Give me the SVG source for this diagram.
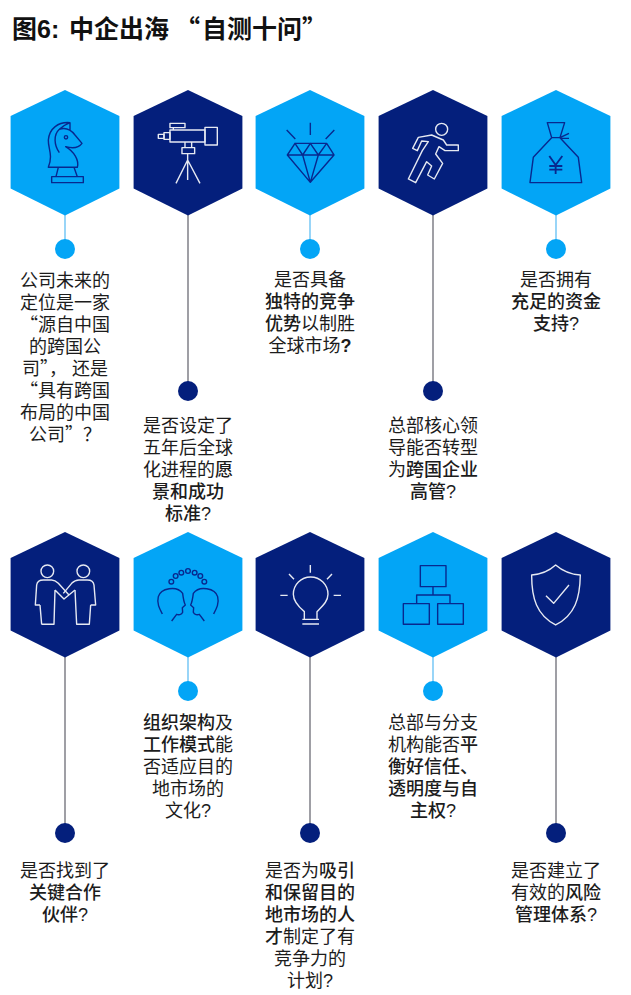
<svg xmlns="http://www.w3.org/2000/svg" width="631" height="995" viewBox="0 0 631 995">
<style>
.lt{fill:#03a5f6}
.dk{fill:#041f7c}
.cl{stroke:#7fcbf6;stroke-width:1.6;fill:none}
.cd{stroke:#87878f;stroke-width:1.6;fill:none}
.id{fill:none;stroke:#08288e;stroke-width:4.2;stroke-linejoin:round}
.iw{fill:none;stroke:#e6e9f2;stroke-width:4.2;stroke-linejoin:round}
text{font-family:"Liberation Sans","Noto Sans CJK SC",sans-serif;font-size:18px;fill:#1c1c1c;text-anchor:middle}
.cjk{font-family:"Noto Sans CJK SC",sans-serif}
.b{font-weight:500}
.q{font-weight:700}
.title{font-size:25px;font-weight:700;fill:#111;text-anchor:start}
</style>
<defs>
<polygon id="hex" points="0,0 54.4,26 54.4,98.6 0,125.4 -54.4,98.6 -54.4,26"/>
</defs>
<rect width="631" height="995" fill="#fff"/>
<text class="title" y="38"><tspan x="12">图6:</tspan><tspan x="69">中企出海</tspan><tspan class="cjk" x="175">“</tspan><tspan x="202">自测十问</tspan><tspan class="cjk" x="302">”</tspan></text>
<g id="connectors">
<path class="cl" d="M65 215V240"/><path class="cd" d="M188 215V382"/><path class="cl" d="M310 215V240"/><path class="cd" d="M433 215V382"/><path class="cl" d="M556 215V240"/>
<path class="cd" d="M65 657V824"/><path class="cl" d="M188 657V682"/><path class="cd" d="M310 657V824"/><path class="cl" d="M433 657V682"/><path class="cd" d="M556 657V824"/>
</g>
<g id="n1">
<use href="#hex" x="65" y="90" class="lt"/>
<g class="id" transform="translate(0 80) scale(.3333)">
<rect x="155" y="290" width="95" height="18"/>
<path d="M175 262L168 290M222 262L232 290"/>
<path d="M210 128C175 125 148 145 145 180C144 205 160 225 145 262H232C238 240 222 215 197 200C215 205 235 205 246 190L225 165C212 148 195 142 178 148C160 165 162 195 178 218M178 148C190 135 200 132 210 128V150"/>
<circle cx="198" cy="172" r="5"/>
</g>
<circle cx="65" cy="249" r="10" class="lt"/>
<text><tspan x="65" y="287">公司未来的</tspan><tspan x="65" y="309">定位是一家</tspan><tspan x="65" y="331"><tspan class="cjk">“</tspan>源自中国</tspan><tspan x="65" y="353">的跨国公</tspan><tspan x="65" y="375">司<tspan class="cjk">”，</tspan> 还是</tspan><tspan x="65" y="397"><tspan class="cjk">“</tspan>具有跨国</tspan><tspan x="65" y="419">布局的中国</tspan><tspan x="65" y="441">公司<tspan class="cjk">”？</tspan></tspan></text>
</g>
<g id="n2">
<use href="#hex" x="188" y="90" class="dk"/>
<g class="iw" transform="translate(0 80) scale(.3333)">
<rect x="510" y="150" width="105" height="36"/>
<rect x="615" y="142" width="37" height="53"/>
<rect x="510" y="130" width="45" height="13"/>
<path d="M520 143V150"/>
<rect x="492" y="158" width="18" height="20"/>
<rect x="475" y="163" width="17" height="12"/>
<path d="M555 186V203M575 186V203"/>
<rect x="546" y="203" width="38" height="18"/>
<path d="M563 221V300M563 240L528 310M563 240L600 310"/>
</g>
<circle cx="188" cy="391" r="10" class="dk"/>
<text><tspan x="188" y="432">是否设定了</tspan><tspan x="188" y="454">五年后全球</tspan><tspan x="188" y="476">化进程的<tspan class="b">愿</tspan></tspan><tspan x="188" y="498" class="b">景和成功</tspan><tspan x="188" y="520"><tspan class="b">标准</tspan>?</tspan></text>
</g>
<g id="n3">
<use href="#hex" x="310" y="90" class="lt"/>
<g class="id" transform="translate(270 110) scale(.3333)">
<path d="M121 38V75M50 60L76 87M193 60L167 87M75 100H170L192 135L121 217L52 135ZM52 135H192M52 135L75 100L98 135L121 100L145 135L170 100M98 135L121 217L145 135"/>
</g>
<circle cx="310" cy="249" r="10" class="lt"/>
<text><tspan x="310" y="286">是否具备</tspan><tspan x="310" y="308" class="b">独特的竞争</tspan><tspan x="310" y="330"><tspan class="b">优势</tspan>以制胜</tspan><tspan x="310" y="352">全球市场<tspan class="q">?</tspan></tspan></text>
</g>
<g id="n4">
<use href="#hex" x="433" y="90" class="dk"/>
<g class="iw" transform="translate(315 80) scale(.3333)">
<circle cx="380" cy="148" r="18"/>
<path d="M293 205L310 172L350 165L385 180L395 195H430V212H390L372 200L362 222L383 250L358 297L338 285L350 258L335 245L302 308L280 297L322 212L340 185L320 183L307 212Z"/>
</g>
<circle cx="433" cy="391" r="10" class="dk"/>
<text><tspan x="433" y="432">总部核心领</tspan><tspan x="433" y="454">导能否转型</tspan><tspan x="433" y="476">为<tspan class="b">跨国企业</tspan></tspan><tspan x="433" y="498"><tspan class="b">高管</tspan>?</tspan></text>
</g>
<g id="n5">
<use href="#hex" x="556" y="90" class="lt"/>
<g class="id" transform="translate(315 80) scale(.3333)">
<path d="M697 128H749L735 173H710ZM710 173L655 232L645 308H800L790 232L735 173M735 173L762 160M738 175H762"/>
<path style="stroke-width:5.5" d="M703 228L722 255L742 228M722 255V282M703 258H742M703 269H742"/>
</g>
<circle cx="556" cy="249" r="10" class="lt"/>
<text><tspan x="556" y="286">是否拥有</tspan><tspan x="556" y="308" class="b">充足的资金</tspan><tspan x="556" y="330"><tspan class="b">支持</tspan>?</tspan></text>
</g>
<g id="n6">
<use href="#hex" x="65" y="532" class="dk"/>
<g class="iw" transform="translate(0 525) scale(.3333)">
<circle cx="142" cy="139" r="19"/><circle cx="250" cy="139" r="19"/>
<path d="M120 240H106L110 180Q112 165 130 165H155Q165 165 175 175L207 210M165 195L192 222L225 195M125 298L120 240M125 298H162L165 195"/>
<path d="M272 240H287L282 180Q280 165 262 165H237Q225 165 215 175L190 205M225 195L230 298H268L272 240"/>
</g>
<circle cx="65" cy="833" r="10" class="dk"/>
<text><tspan x="65" y="877">是否找到了</tspan><tspan x="65" y="899" class="b">关键合作</tspan><tspan x="65" y="921"><tspan class="b">伙伴</tspan>?</tspan></text>
</g>
<g id="n7">
<use href="#hex" x="188" y="532" class="lt"/>
<g class="id" transform="translate(0 525) scale(.3333)">
<circle cx="514" cy="170" r="7"/><circle cx="527" cy="153" r="7"/><circle cx="544" cy="143" r="7"/><circle cx="564" cy="138" r="7"/><circle cx="584" cy="143" r="7"/><circle cx="601" cy="153" r="7"/><circle cx="613" cy="170" r="7"/>
<path d="M487 267C478 250 470 235 475 215C482 190 530 180 548 205C550 222 552 232 556 240L547 248L548 262C545 270 535 270 530 268L515 288"/>
<path transform="translate(1128 0) scale(-1 1)" d="M487 267C478 250 470 235 475 215C482 190 530 180 548 205C550 222 552 232 556 240L547 248L548 262C545 270 535 270 530 268L515 288"/>
</g>
<circle cx="188" cy="691" r="10" class="lt"/>
<text><tspan x="188" y="729"><tspan class="b">组织架构</tspan>及</tspan><tspan x="188" y="751"><tspan class="b">工作模式</tspan>能</tspan><tspan x="188" y="773">否适应目的</tspan><tspan x="188" y="795">地市场的</tspan><tspan x="188" y="817">文化?</tspan></text>
</g>
<g id="n8">
<use href="#hex" x="310" y="532" class="dk"/>
<g class="iw" transform="translate(270 560) scale(.3333)">
<path d="M121 15V38M57 42L72 58M186 42L171 58M31 106H53M191 106H213"/>
<path d="M103 178V155C85 140 70 125 70 103A52 52 0 0 1 174 103C174 125 155 140 141 155V178M97 178H147M97 192H147"/>
</g>
<circle cx="310" cy="833" r="10" class="dk"/>
<text><tspan x="310" y="877">是否为<tspan class="b">吸引</tspan></tspan><tspan x="310" y="899" class="b">和保留目的</tspan><tspan x="310" y="921" class="b">地市场的人</tspan><tspan x="310" y="943"><tspan class="b">才</tspan>制定了有</tspan><tspan x="310" y="965">竞争力的</tspan><tspan x="310" y="987">计划?</tspan></text>
</g>
<g id="n9">
<use href="#hex" x="433" y="532" class="lt"/>
<g class="id" transform="translate(315 525) scale(.3333)">
<rect x="316" y="122" width="77" height="63"/>
<path d="M354 185V210M305 236V210H405V236"/>
<rect x="265" y="236" width="78" height="62"/>
<rect x="368" y="236" width="77" height="62"/>
</g>
<circle cx="433" cy="691" r="10" class="lt"/>
<text><tspan x="433" y="729">总部与分支</tspan><tspan x="433" y="751">机构能否<tspan class="b">平</tspan></tspan><tspan x="433" y="773" class="b">衡好信任、</tspan><tspan x="433" y="795" class="b">透明度与自</tspan><tspan x="433" y="817"><tspan class="b">主权</tspan>?</tspan></text>
</g>
<g id="n10">
<use href="#hex" x="556" y="532" class="dk"/>
<g class="iw" transform="translate(315 525) scale(.3333)">
<path d="M722 120C700 140 680 148 650 150C650 220 665 270 722 300C780 270 795 220 796 150C765 148 745 140 722 120Z"/>
<path d="M693 212L716 235L762 180"/>
</g>
<circle cx="556" cy="833" r="10" class="dk"/>
<text><tspan x="556" y="877">是否建立了</tspan><tspan x="556" y="899">有效的<tspan class="b">风险</tspan></tspan><tspan x="556" y="921"><tspan class="b">管理体系</tspan>?</tspan></text>
</g>
</svg>
